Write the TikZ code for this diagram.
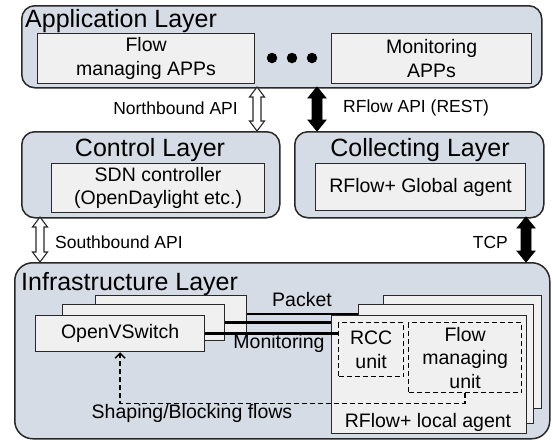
\documentclass[tikz,border=0pt]{standalone}
\usepackage{fontspec}
\setmainfont{Liberation Sans}
\usetikzlibrary{arrows.meta,calc}
\definecolor{layerfill}{RGB}{214,220,229}
\definecolor{boxfill}{RGB}{240,240,240}
\definecolor{bordercol}{RGB}{40,40,40}
\newcommand\mytitlefont{\fontsize{25}{28}\selectfont}
\newcommand\mybodyfont{\fontsize{19.5}{23.5}\selectfont}
\newcommand\mylabelfont{\fontsize{17.5}{20}\selectfont}
% block double arrow: #1 style, #2 x, #3 y top, #4 y bottom, #5 head half width, #6 shaft half width, #7 head length
\newcommand\myblockarrow[7]{%
  \draw[#1] (#2,#3) -- ({#2+#5},{#3+#7}) -- ({#2+#6},{#3+#7}) -- ({#2+#6},{#4-#7})
    -- ({#2+#5},{#4-#7}) -- (#2,#4) -- ({#2-#5},{#4-#7}) -- ({#2-#6},{#4-#7})
    -- ({#2-#6},{#3+#7}) -- ({#2-#5},{#3+#7}) -- cycle;}
\begin{document}
\begin{tikzpicture}[x=1pt,y=-1pt,
  layer/.style={draw=bordercol, line width=1.5pt, fill=layerfill, rounded corners=13pt, inner sep=0pt, anchor=north west},
  ibox/.style={draw=bordercol, line width=1.2pt, fill=boxfill, inner sep=0pt, anchor=north west},
  dbox/.style={draw=black, line width=1.3pt, dash pattern=on 5pt off 3pt, inner sep=0pt, anchor=north west},
  txt/.style={inner sep=0pt, font=\mybodyfont, align=center, text=black},
  ttl/.style={inner sep=0pt, font=\mytitlefont, text=black},
  lbl/.style={inner sep=0pt, font=\mylabelfont, text=black},
  openarr/.style={draw=bordercol, line width=1.1pt, fill=white, line join=miter},
  fullarr/.style={draw=black, line width=0.8pt, fill=black, line join=miter},
  pline/.style={draw=black, line width=2.4pt},
  ret/.style={draw=black, line width=1.4pt, dash pattern=on 5pt off 3pt, -{Straight Barb[length=5pt,width=10pt,line width=1.4pt]}},
  dot/.style={circle, fill=black, inner sep=0pt, minimum size=10.5pt}]
\useasboundingbox (0,0) rectangle (553,440);

% layers
\node[layer, minimum width=520pt, minimum height=82pt] (app) at (21,5) {};
\node[layer, minimum width=258pt, minimum height=86pt] (ctrl) at (21,131) {};
\node[layer, minimum width=249pt, minimum height=86pt] (coll) at (294,131) {};
\node[layer, rounded corners=18pt, minimum width=535pt, minimum height=176pt] (infra) at (14,262) {};

% layer titles
\node[ttl, anchor=base west] (appt) at (25,27) {Application Layer};
\node[ttl, anchor=base] (ctrlt) at (150,156) {Control Layer};
\node[ttl, anchor=base] (collt) at (420,156) {Collecting Layer};
\node[ttl, anchor=base west] (infrat) at (21,290) {Infrastructure Layer};

% application layer content
\node[ibox, minimum width=217pt, minimum height=50pt] (flowapp) at (37,33) {};
\node[txt] at (flowapp.center) {Flow\\managing APPs};
\node[ibox, minimum width=200pt, minimum height=50pt] (monapp) at (331,33) {};
\node[txt] at (monapp.center) {Monitoring\\APPs};
\node[dot] (d1) at (272,58) {};
\node[dot] (d2) at (292,58) {};
\node[dot] (d3) at (312,58) {};

% control / collecting content
\node[ibox, minimum width=213pt, minimum height=49pt] (sdn) at (51,163) {};
\node[txt] at (sdn.center) {SDN controller\\(OpenDaylight etc.)};
\node[ibox, minimum width=210pt, minimum height=47pt] (gagent) at (315,163) {};
\node[txt] at (gagent.center) {RFlow+ Global agent};

% inter-layer block arrows
\myblockarrow{openarr}{257}{87}{131}{7.5}{4}{10}
\myblockarrow{fullarr}{317}{87}{131}{9}{5}{11}
\myblockarrow{openarr}{40}{217}{262}{7.5}{4}{10}
\myblockarrow{fullarr}{526}{217}{262}{9}{5}{11}
\node[lbl, anchor=east] (nb) at (238,108) {Northbound API};
\node[lbl, anchor=west] (rf) at (343,108) {RFlow API (REST)};
\node[lbl, anchor=west] (sb) at (55,242) {Southbound API};
\node[lbl, anchor=east] (tcp) at (508,242) {TCP};

% infrastructure content: switches
\node[ibox, minimum width=151pt, minimum height=37pt] (ovs3) at (95,295) {};
\node[ibox, minimum width=162pt, minimum height=36pt] (ovs2) at (62,304) {};
\node[ibox, minimum width=169pt, minimum height=36pt] (ovs1) at (35,315) {};
\node[txt] at (ovs1.center) {OpenVSwitch};

% local agents
\node[ibox, minimum width=158pt, minimum height=113pt] (ag3) at (383,295) {};
\node[ibox, minimum width=175pt, minimum height=119pt] (ag2) at (358,304) {};
\node[ibox, minimum width=195pt, minimum height=118pt] (ag1) at (331,315) {};
\node[dbox, minimum width=65pt, minimum height=54pt] (rcc) at (338,322) {};
\node[txt] at (rcc.center) {RCC\\unit};
\node[dbox, minimum width=113pt, minimum height=70pt] (fmu) at (408,322) {};
\node[txt] at (fmu.center) {Flow\\managing\\unit};
\node[txt] (agl) at (428,422) {RFlow+ local agent};

% packet / monitoring lines
\draw[pline] (ovs3.east) -- (ovs3.east -| ag2.west);
\draw[pline] (ovs2.east) -- (ovs2.east -| ag1.west);
\draw[pline] (ovs1.east) -- (ovs1.east -| rcc.west);
\node[txt] (pk) at (302,300) {Packet};
\node[txt] (mon) at (279,343) {Monitoring};

% shaping / blocking feedback
\coordinate (turn) at ($(fmu.south)+(0,10)$);
\draw[ret] (fmu.south) -- (turn) -| (ovs1.south);
\node[txt] (sbf) at (192,413) {Shaping/Blocking flows};
\end{tikzpicture}
\end{document}
